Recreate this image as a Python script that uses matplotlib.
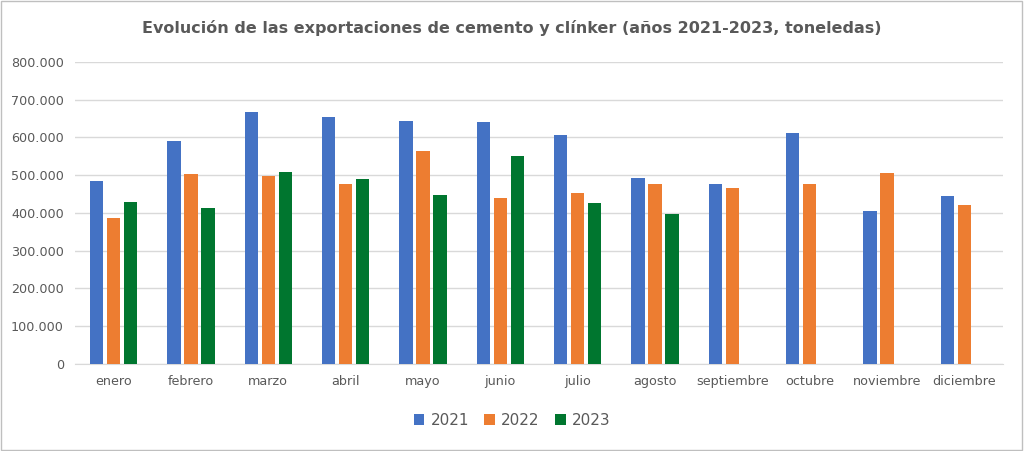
import numpy as np
import matplotlib.pyplot as plt
from matplotlib.patches import Rectangle
from matplotlib.ticker import FuncFormatter

meses = ['enero', 'febrero', 'marzo', 'abril', 'mayo', 'junio', 'julio',
         'agosto', 'septiembre', 'octubre', 'noviembre', 'diciembre']
t2021 = [486000, 590000, 667000, 655000, 645000, 640000, 606000, 493000, 476000, 613000, 404000, 444000]
t2022 = [388000, 503000, 498000, 478000, 564000, 441000, 454000, 478000, 466000, 476000, 505000, 420000]
t2023 = [429000, 412000, 508000, 489000, 447000, 550000, 427000, 398000]

colores = ['#4472C4', '#ED7D31', '#00762F']
gris = '#595959'

fig = plt.figure(figsize=(10.24, 4.51), dpi=100)
ax = fig.add_axes([0.0732, 0.193, 0.9063, 0.6695])

x = np.arange(len(meses))
w = 0.17
paso = 0.22
series = [('2021', t2021), ('2022', t2022), ('2023', t2023)]
for i, (nombre, vals) in enumerate(series):
    xs = x[:len(vals)] + (i - 1) * paso
    ax.bar(xs, vals, width=w, color=colores[i], label=nombre, zorder=3)

ax.set_xlim(-0.5, len(meses) - 0.5)
ax.set_ylim(0, 800000)
ax.set_yticks(np.arange(0, 800001, 100000))
ax.yaxis.set_major_formatter(FuncFormatter(lambda v, p: '0' if v == 0 else f'{int(v):,}'.replace(',', '.')))
ax.set_xticks(x)
ax.set_xticklabels(meses)
ax.grid(axis='y', color='#d9d9d9', linewidth=1, zorder=0)
for s in ['top', 'right', 'left']:
    ax.spines[s].set_visible(False)
ax.spines['bottom'].set_color('#d9d9d9')
ax.tick_params(axis='both', length=0, colors=gris, labelsize=9.2, pad=8)

fig.suptitle('Evolución de las exportaciones de cemento y clínker (años 2021-2023, toneledas)',
             x=0.5, y=0.955, fontsize=11.5, fontweight='bold', color=gris)

leg = fig.legend(loc='center', bbox_to_anchor=(0.5, 0.068), ncol=3, frameon=False,
                 fontsize=11, handlelength=0.7, handleheight=0.7, columnspacing=1.0,
                 handletextpad=0.4)
for t in leg.get_texts():
    t.set_color(gris)

fig.patches.append(Rectangle((0.001, 0.002), 0.997, 0.995, transform=fig.transFigure,
                             fill=False, edgecolor='#bfbfbf', linewidth=1))

fig.savefig('out.png', dpi=100)
